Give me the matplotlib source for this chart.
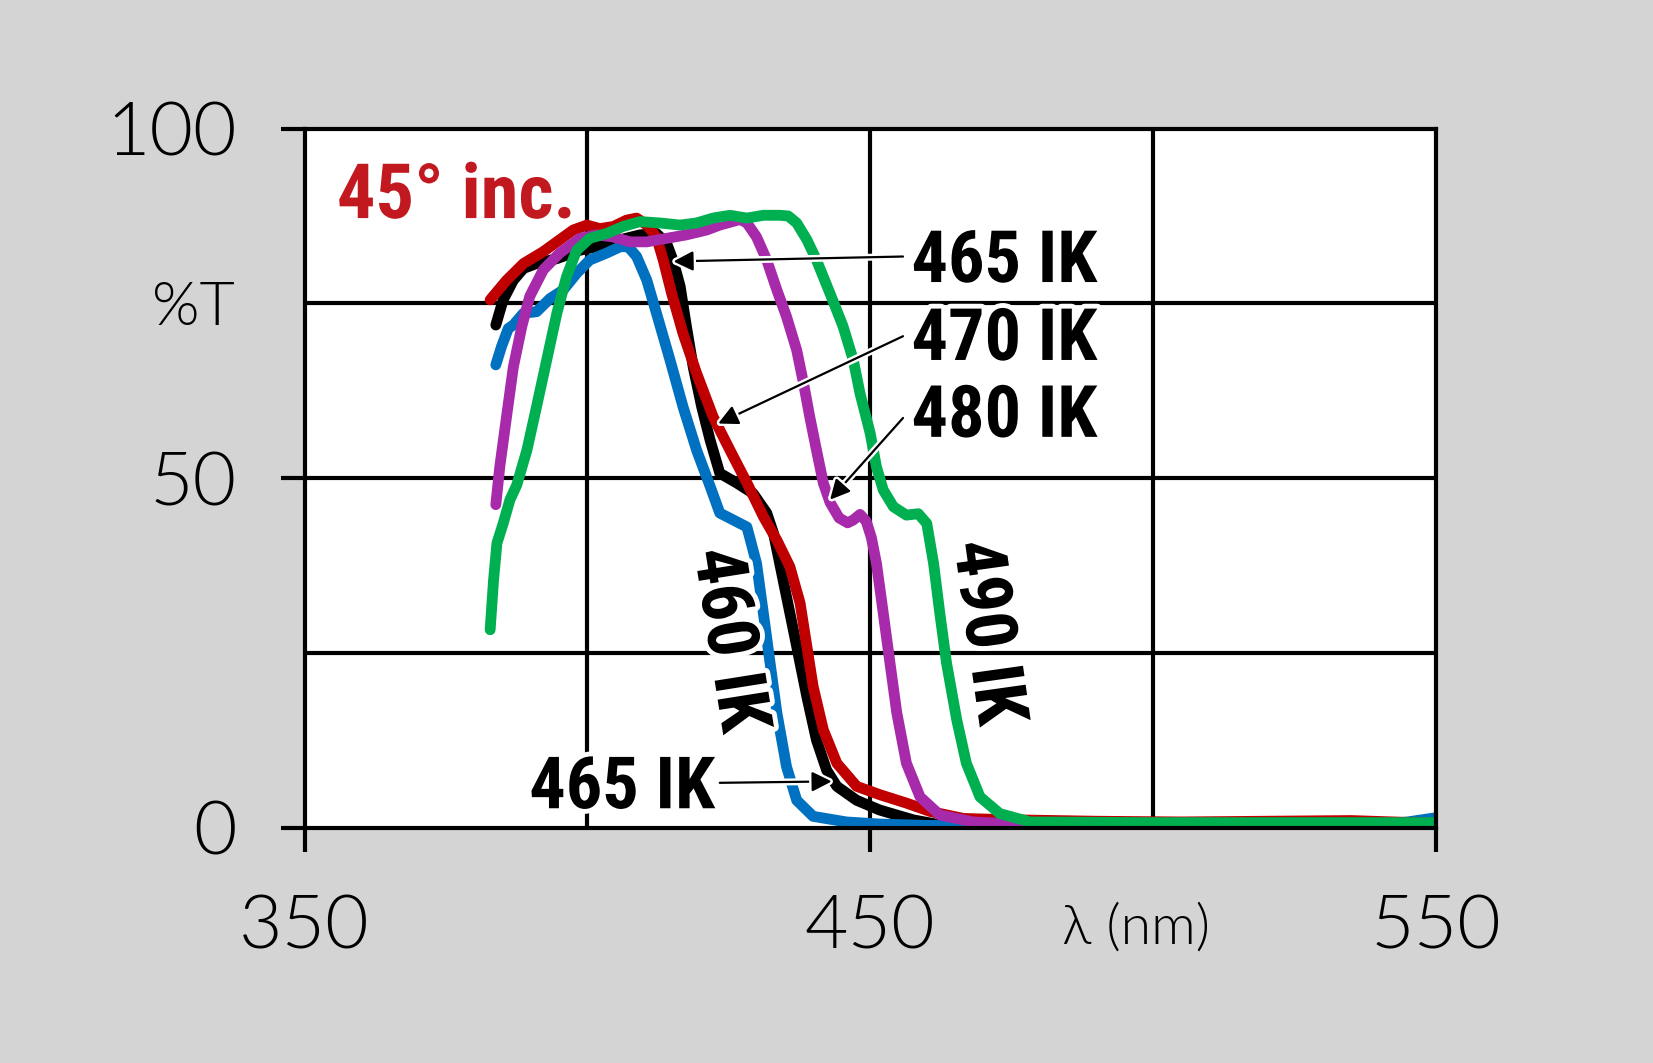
import matplotlib
matplotlib.use('Agg')
import matplotlib.pyplot as plt
import matplotlib.patheffects as pe

plt.rcParams['font.family'] = ['Lato', 'DejaVu Sans']

# 465 IK (black)
wl465 = [383.8, 385.1, 386.9, 388.7, 391.0, 394.6, 398.7, 401.6, 405.8, 409.3, 412.2, 414.0, 415.2,
         416.4, 417.5, 418.7, 420.2, 421.7, 423.4, 426.4, 429.3, 431.7, 432.9, 434.6, 436.4, 437.6,
         438.8, 440.5, 442.3, 444.1, 447.6, 451.7, 457.6, 462.3, 470, 480, 500, 550]
t465 = [71.9, 75.5, 78.3, 80.0, 80.7, 81.4, 82.6, 83.1, 84.1, 84.8, 85.0, 83.6, 81.0,
        77.4, 71.7, 65.9, 60.2, 55.4, 50.7, 49.3, 47.8, 45.0, 42.1, 35.4, 28.3, 23.5,
        18.7, 12.5, 8.2, 5.9, 3.9, 2.5, 1.1, 0.4, 0.2, 0.2, 0.2, 0.2]

# 470 IK (red)
wl470 = [382.8, 385.7, 388.7, 392.2, 395.1, 397.5, 399.9, 402.2, 404.6, 406.9, 408.7, 410.5, 412.2,
         413.4, 414.9, 416.9, 419.3, 422.2, 425.2, 428.2, 429.9, 431.1, 433.5, 435.8, 437.6, 438.8,
         439.9, 441.7, 444.1, 447.6, 451.7, 456.4, 460.6, 466.5, 475.3, 490, 505, 520, 535, 550]
t470 = [75.5, 78.3, 80.7, 82.4, 84.1, 85.5, 86.2, 85.7, 86.0, 86.9, 87.2, 86.2, 84.5,
        81.2, 76.4, 70.7, 65.0, 58.8, 54.0, 49.3, 46.5, 44.5, 41.1, 37.3, 32.1, 25.9,
        20.2, 14.0, 9.2, 5.9, 4.7, 3.5, 2.3, 1.3, 1.1, 0.9, 0.8, 0.9, 1.0, 0.6]

# 460 IK (blue)
wl460 = [383.8, 384.8, 386.0, 386.9, 388.7, 391.0, 393.4, 395.7, 398.1, 400.4, 403.4, 405.8, 407.2,
         408.7, 410.5, 412.2, 414.6, 416.9, 419.3, 421.7, 423.4, 425.8, 428.2, 429.9, 431.1, 432.3,
         433.5, 435.2, 437.0, 439.9, 445.8, 451.7, 460, 480, 500, 520, 538, 545, 550]
t460 = [66.2, 68.8, 71.4, 71.9, 73.6, 73.8, 75.7, 76.9, 79.3, 81.2, 82.2, 83.1, 83.1,
        81.7, 78.3, 73.6, 66.9, 60.2, 54.0, 48.8, 45.0, 44.0, 43.0, 37.8, 30.7, 23.5,
        16.4, 8.7, 3.9, 1.6, 0.8, 0.5, 0.3, 0.3, 0.3, 0.3, 0.3, 0.8, 1.4]

# 480 IK (purple)
wl480 = [383.8, 384.5, 385.7, 386.9, 388.4, 389.8, 392.2, 395.1, 398.7, 401.6, 404.6, 407.5, 410.5,
         414.0, 417.5, 421.1, 423.4, 427.0, 428.2, 429.9, 431.7, 433.5, 435.2, 437.0, 438.2, 439.3,
         440.5, 441.7, 442.9, 444.5, 446.0, 447.0, 448.2, 449.3, 450.2, 451.1, 452.3, 453.5, 454.7,
         456.4, 458.8, 462.3, 468.2, 475.3, 500, 550]
t480 = [46.2, 51.6, 58.8, 65.9, 71.7, 76.0, 79.8, 82.2, 84.3, 84.8, 84.5, 83.8, 83.8,
        84.3, 84.8, 85.5, 86.2, 87.0, 86.5, 84.5, 81.2, 76.9, 73.1, 68.3, 63.6, 58.8,
        54.0, 49.3, 46.5, 44.3, 43.6, 44.0, 44.8, 43.8, 41.5, 37.8, 30.7, 23.5, 16.4,
        9.2, 4.4, 1.8, 0.8, 0.5, 0.4, 0.4]

# 490 IK (green)
wl490 = [382.8, 383.4, 384.0, 385.1, 386.3, 387.5, 389.3, 391.0, 392.8, 394.6, 396.3, 398.1, 400.4,
         403.4, 406.3, 409.3, 412.8, 416.4, 419.3, 422.2, 425.2, 428.2, 431.1, 434.0, 435.5, 437.0,
         438.8, 440.5, 442.9, 445.2, 447.0, 448.2, 450.0, 451.1, 452.3, 454.1, 456.4, 458.5, 460.0,
         461.2, 462.3, 463.5, 465.3, 467.0, 469.4, 472.9, 478.3, 500, 520, 550]
t490 = [28.3, 35.4, 40.7, 43.5, 46.9, 49.0, 54.0, 60.2, 66.9, 73.6, 78.8, 82.6, 84.3,
        85.0, 86.0, 86.7, 86.5, 86.2, 86.5, 87.2, 87.6, 87.2, 87.6, 87.6, 87.5, 86.5,
        84.1, 81.2, 76.4, 71.7, 66.9, 62.1, 56.4, 51.6, 48.3, 45.9, 44.7, 44.9, 43.5,
        37.8, 30.7, 23.5, 15.4, 9.2, 4.4, 2.0, 0.8, 0.7, 0.7, 0.7]

xticks = [350, 450, 550]
yticks = [0, 50, 100]

bg = '#d4d4d4'
fig = plt.figure(figsize=(16.53, 10.63), dpi=100, facecolor=bg)
ax = fig.add_axes([0.1843, 0.2215, 0.6843, 0.6575])
ax.set_facecolor('white')

for v in [400, 450, 500]:
    ax.axvline(v, color='k', lw=3, zorder=1)
for v in [25, 50, 75]:
    ax.axhline(v, color='k', lw=3, zorder=1)

lw = 7.8
style = dict(lw=lw, solid_capstyle='round', solid_joinstyle='round')
ax.plot(wl465, t465, color='#000000', zorder=3, **style)
ax.plot(wl460, t460, color='#0070c0', zorder=4, **style)
ax.plot(wl470, t470, color='#c00000', zorder=5, **style)
ax.plot(wl480, t480, color='#a62aaa', zorder=6, **style)
ax.plot(wl490, t490, color='#00b050', zorder=7, **style)

ax.set_xlim(350, 550)
ax.set_ylim(0, 100)
for s in ax.spines.values():
    s.set_linewidth(3)
    s.set_zorder(8)

ax.set_xticks(xticks)
ax.set_yticks(yticks)
ax.set_xticklabels([str(v) for v in xticks], fontsize=54, fontweight=300)
ax.set_yticklabels([str(v) for v in yticks], fontsize=54, fontweight=300)
ax.tick_params(axis='both', direction='out', length=17, width=3)
ax.tick_params(axis='x', pad=31)
ax.tick_params(axis='y', pad=32)

ax.text(330.4, 74.3, '%T', fontsize=44, fontweight=300, ha='center', va='center')
ax.text(497.0, -14.5, 'λ (nm)', fontsize=40, fontweight=300, ha='center', va='center',
        clip_on=False)

halo = [pe.withStroke(linewidth=7, foreground='white')]
bold = dict(family=['Roboto Condensed', 'Open Sans Condensed', 'Liberation Sans Narrow',
                    'Liberation Sans', 'DejaVu Sans'],
            fontweight='bold', zorder=12)

ax.text(355.7, 87.2, '45° inc.', color='#c1191f', fontsize=55, path_effects=halo, **bold)

fs = 52
ax.text(457.3, 78.05, '465 IK', fontsize=fs, ha='left', va='baseline', path_effects=halo, **bold)
ax.text(457.3, 66.9, '470 IK', fontsize=fs, ha='left', va='baseline', path_effects=halo, **bold)
ax.text(457.3, 55.9, '480 IK', fontsize=fs, ha='left', va='baseline', path_effects=halo, **bold)
ax.text(422.6, 2.76, '465 IK', fontsize=fs, ha='right', va='baseline', path_effects=halo, **bold)
ax.text(424.85, 26.8, '460 IK', fontsize=fs, rotation=-81, ha='center', va='center',
        path_effects=halo, **bold)
ax.text(470.5, 27.9, '490 IK', fontsize=fs, rotation=-82, ha='center', va='center',
        path_effects=halo, **bold)

arrow = dict(arrowstyle='-|>', lw=1.6, color='k', mutation_scale=30, shrinkA=0, shrinkB=0,
             path_effects=[pe.withStroke(linewidth=5, foreground='white')])
arrows = [((415.2, 81.0), (455.8, 81.7)),
          ((423.1, 57.8), (455.8, 70.3)),
          ((442.9, 46.9), (455.8, 58.6)),
          ((443.2, 6.6), (423.4, 6.4))]
for head, tail in arrows:
    ax.annotate('', xy=head, xytext=tail, arrowprops=arrow, zorder=11)

fig.savefig('out.png', dpi=100, facecolor=bg)
